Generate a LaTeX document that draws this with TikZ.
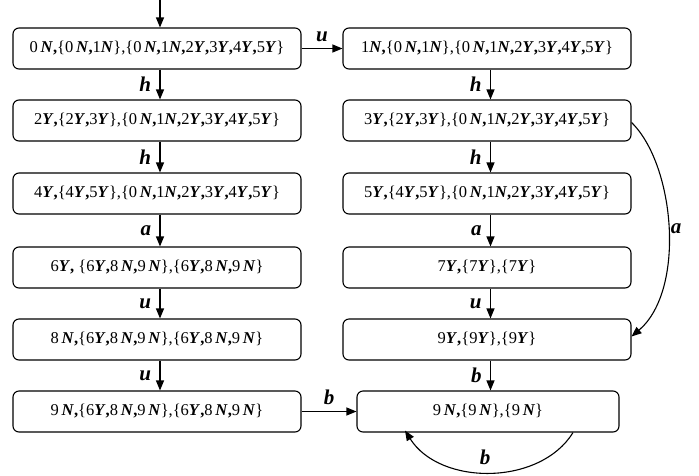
\documentclass[tikz,border=0pt]{standalone}
\usepackage{fontspec}
\setmainfont{Liberation Serif}
\usetikzlibrary{arrows.meta}
\newcommand{\nN}{\textbf{\textit{N}}}
\newcommand{\nY}{\textbf{\textit{Y}}}
\newcommand{\bc}{\textbf{,}}
\newcommand{\lbl}[1]{\textbf{\textit{#1}}}
\begin{document}
\begin{tikzpicture}[x=1pt,y=-1pt,
  statebox/.style={draw,line width=1.1pt,rounded corners=6pt,minimum width=288pt,minimum height=41pt,inner sep=0pt,font=\fontsize{16.5}{20}\selectfont},
  arr/.style={line width=1.1pt,-{Triangle[length=10pt,width=8pt]}},
  elabel/.style={font=\fontsize{21}{24}\selectfont}]
\useasboundingbox (0,0) rectangle (699,475);
% left column
\node[statebox] (l1) at (157,48.5) {0\,\nN\bc\{0\,\nN\bc 1\nN\},\{0\,\nN\bc 1\nN\bc 2\nY\bc 3\nY\bc 4\nY\bc 5\nY\}};
\node[statebox] (l2) at (157,120.5) {2\nY\bc\{2\nY\bc 3\nY\},\{0\,\nN\bc 1\nN\bc 2\nY\bc 3\nY\bc 4\nY\bc 5\nY\}};
\node[statebox] (l3) at (157,193.5) {4\nY\bc\{4\nY\bc 5\nY\},\{0\,\nN\bc 1\nN\bc 2\nY\bc 3\nY\bc 4\nY\bc 5\nY\}};
\node[statebox] (l4) at (157,267.5) {6\nY\bc{} \{6\nY\bc 8\,\nN\bc 9\,\nN\},\{6\nY\bc 8\,\nN\bc 9\,\nN\}};
\node[statebox] (l5) at (157,339.5) {8\,\nN\bc\{6\nY\bc 8\,\nN\bc 9\,\nN\},\{6\nY\bc 8\,\nN\bc 9\,\nN\}};
\node[statebox] (l6) at (157,411.5) {9\,\nN\bc\{6\nY\bc 8\,\nN\bc 9\,\nN\},\{6\nY\bc 8\,\nN\bc 9\,\nN\}};
% right column
\node[statebox] (r1) at (487,48.5) {1\nN\bc\{0\,\nN\bc 1\nN\},\{0\,\nN\bc 1\nN\bc 2\nY\bc 3\nY\bc 4\nY\bc 5\nY\}};
\node[statebox] (r2) at (487,120.5) {3\nY\bc\{2\nY\bc 3\nY\},\{0\,\nN\bc 1\nN\bc 2\nY\bc 3\nY\bc 4\nY\bc 5\nY\}};
\node[statebox] (r3) at (487,193.5) {5\nY\bc\{4\nY\bc 5\nY\},\{0\,\nN\bc 1\nN\bc 2\nY\bc 3\nY\bc 4\nY\bc 5\nY\}};
\node[statebox] (r4) at (487,267.5) {7\nY\bc\{7\nY\},\{7\nY\}};
\node[statebox] (r5) at (487,339.5) {9\nY\bc\{9\nY\},\{9\nY\}};
\node[statebox,minimum width=262pt] (r6) at (488,411.5) {9\,\nN\bc\{9\,\nN\},\{9\,\nN\}};
% helper coordinates
\coordinate (xl) at (160,0);
\coordinate (xr) at (490.5,0);
\coordinate (start) at (160,0);
% entry
\draw[arr] (start) -- (l1.north -| xl);
% left vertical
\draw[arr] (l1.south -| xl) -- node[elabel,left=5pt] (lh1) {\lbl{h}} (l2.north -| xl);
\draw[arr] (l2.south -| xl) -- node[elabel,left=5pt] (lh2) {\lbl{h}} (l3.north -| xl);
\draw[arr] (l3.south -| xl) -- node[elabel,left=5pt] (la1) {\lbl{a}} (l4.north -| xl);
\draw[arr] (l4.south -| xl) -- node[elabel,left=5pt] (lu1) {\lbl{u}} (l5.north -| xl);
\draw[arr] (l5.south -| xl) -- node[elabel,left=5pt] (lu2) {\lbl{u}} (l6.north -| xl);
% right vertical
\draw[arr] (r1.south -| xr) -- node[elabel,left=5pt] (rh1) {\lbl{h}} (r2.north -| xr);
\draw[arr] (r2.south -| xr) -- node[elabel,left=5pt] (rh2) {\lbl{h}} (r3.north -| xr);
\draw[arr] (r3.south -| xr) -- node[elabel,left=5pt] (ra1) {\lbl{a}} (r4.north -| xr);
\draw[arr] (r4.south -| xr) -- node[elabel,left=5pt] (ru1) {\lbl{u}} (r5.north -| xr);
\draw[arr] (r5.south -| xr) -- node[elabel,left=5pt] (rb1) {\lbl{b}} (r6.north -| xr);
% horizontal
\draw[arr] (l1.east) -- node[elabel,above=3pt] (hu) {\lbl{u}} (r1.west);
\draw[arr] (l6.east) -- node[elabel,above=3pt] (hb) {\lbl{b}} (r6.west);
% curved a
\draw[arr] ([yshift=-2pt]r2.east) .. controls (675,165) and (686,290) .. ([yshift=3pt]r5.east);
\node[elabel] (ca) at (676,229) {\lbl{a}};
% self loop b
\draw[arr] ([xshift=85pt]r6.south) .. controls (540,486) and (440,486) .. ([xshift=-83pt,yshift=2pt]r6.south);
\node[elabel] (cb) at (485,457) {\lbl{b}};
\end{tikzpicture}
\end{document}
